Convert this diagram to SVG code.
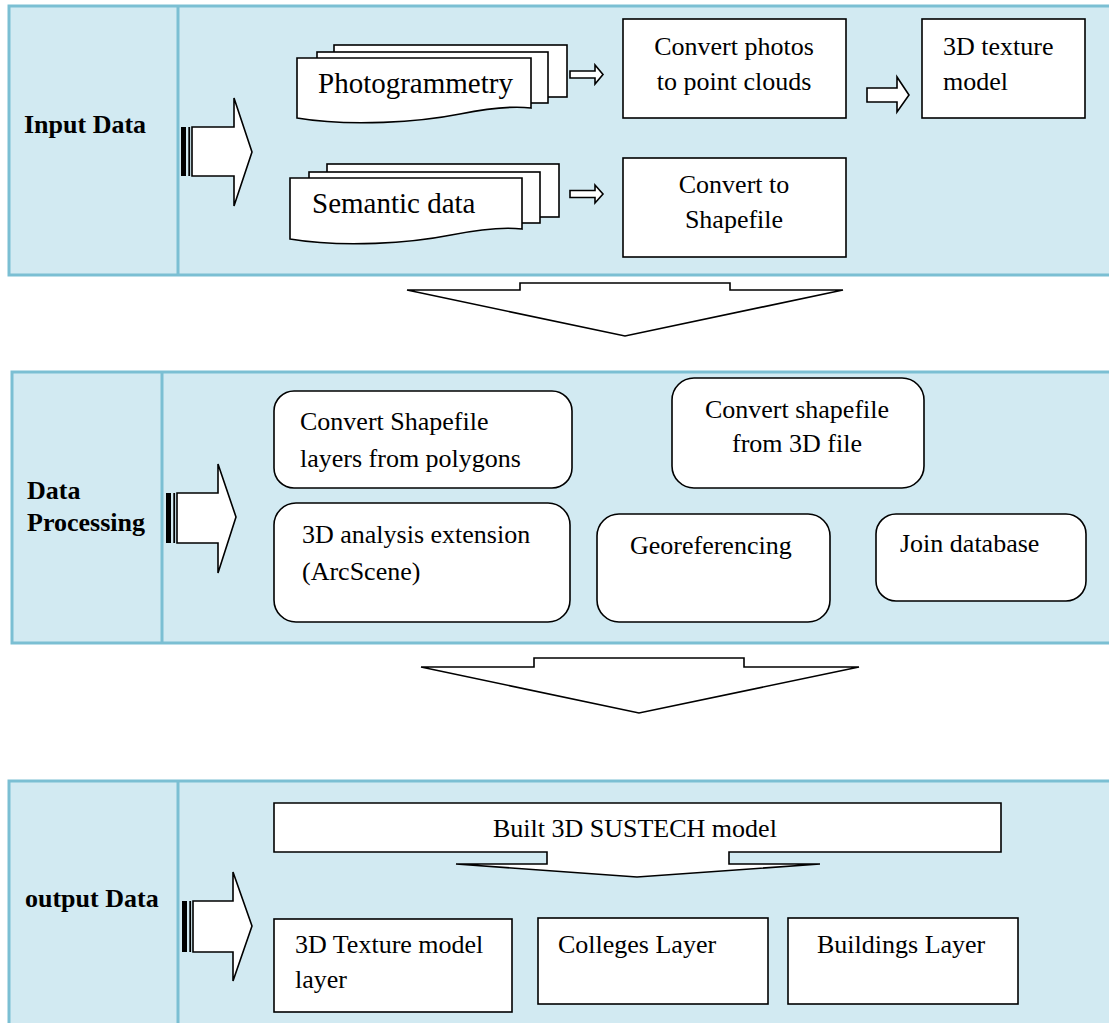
<svg xmlns="http://www.w3.org/2000/svg" width="1109" height="1023" viewBox="0 0 1109 1023">
<style>
.panel{fill:#d2eaf2;stroke:#7bbfd3;stroke-width:3}
.div{stroke:#7bbfd3;stroke-width:3}
.box{fill:#fff;stroke:#000;stroke-width:1.6}
.arr{fill:#fff;stroke:#000;stroke-width:1.6;stroke-linejoin:miter}
.t{font-family:"Liberation Serif","Times New Roman",serif;font-size:26px;fill:#000}
.big{font-size:29px}
.b{font-weight:bold}
.m{text-anchor:middle}
</style>
<rect width="1109" height="1023" fill="#fff"/>
<g id="panel-input">
<rect class="panel" x="9" y="6" width="1110" height="269"/>
<line class="div" x1="178" y1="6" x2="178" y2="275"/>
<text class="t b" x="24" y="133">Input Data</text>
</g>
<g id="panel-processing">
<rect class="panel" x="12" y="372" width="1110" height="271"/>
<line class="div" x1="162" y1="372" x2="162" y2="643"/>
<text class="t b" x="27" y="499">Data</text>
<text class="t b" x="27" y="531">Processing</text>
</g>
<g id="panel-output">
<rect class="panel" x="9" y="781" width="1110" height="260"/>
<line class="div" x1="178" y1="781" x2="178" y2="1041"/>
<text class="t b" x="25" y="907">output Data</text>
</g>
<g id="connectors">
<g id="arrow-input">
<rect x="181" y="127" width="5" height="49" fill="#000"/>
<rect x="188.3" y="127" width="1.8" height="49" fill="#000"/>
<polygon class="arr" points="192,127 234,127 234,98 252,152 234,206 234,176 192,176"/>
</g>
<g id="arrow-processing">
<rect x="166" y="493" width="5" height="50" fill="#000"/>
<rect x="173.3" y="493" width="1.8" height="50" fill="#000"/>
<polygon class="arr" points="177,493 218,493 218,464 236,517 218,573 218,543 177,543"/>
</g>
<g id="arrow-output">
<rect x="182" y="901" width="5" height="51" fill="#000"/>
<rect x="189.3" y="901" width="1.8" height="51" fill="#000"/>
<polygon class="arr" points="193,901 233,901 233,872 252,926 233,981 233,952 193,952"/>
</g>
<polygon id="arrow-photo" class="arr" points="570,71 595,71 595,65 603,74.5 595,84 595,78 570,78"/>
<polygon id="arrow-semantic" class="arr" points="570,190.5 595,190.5 595,185 603,194 595,203 595,197.5 570,197.5"/>
<polygon id="arrow-texture" class="arr" points="867,88 897,88 897,77 909,95 897,112 897,102 867,102"/>
<polygon id="down-arrow-1" class="arr" points="407,290 520,290 520,283 730,283 730,290 843,290 625,336"/>
<polygon id="down-arrow-2" class="arr" points="421,667 534,667 534,658 744,658 744,667 859,667 639,713"/>
</g>
<g id="node-photogrammetry">
<rect class="box" x="334" y="45" width="233" height="52"/>
<rect class="box" x="317" y="52" width="231" height="51"/>
<path class="box" d="M297,58 H531 V108 C515,106 490,108 460,114 C420,122 350,127 297,118 Z"/>
<text class="t big" x="318" y="93">Photogrammetry</text>
</g>
<g id="node-semantic">
<rect class="box" x="327" y="164" width="232" height="53"/>
<rect class="box" x="309" y="172" width="231" height="51"/>
<path class="box" d="M290,178 H522 V229 C506,227 481,229 451,235 C411,243 343,248 290,239 Z"/>
<text class="t big" x="312" y="213">Semantic data</text>
</g>
<g id="node-convert-photos">
<rect class="box" x="623" y="19" width="223" height="99"/>
<text class="t m" x="734" y="55">Convert photos</text>
<text class="t m" x="734" y="90">to point clouds</text>
</g>
<g id="node-3d-texture">
<rect class="box" x="922" y="19" width="163" height="99"/>
<text class="t" x="943" y="55">3D texture</text>
<text class="t" x="943" y="90">model</text>
</g>
<g id="node-convert-shapefile">
<rect class="box" x="623" y="158" width="223" height="99"/>
<text class="t m" x="734" y="193">Convert to</text>
<text class="t m" x="734" y="228">Shapefile</text>
</g>
<g id="node-convert-layers">
<rect class="box" x="274" y="391" width="298" height="97" rx="20"/>
<text class="t" x="300" y="430">Convert Shapefile</text>
<text class="t" x="300" y="467">layers from polygons</text>
</g>
<g id="node-convert-3d">
<rect class="box" x="672" y="378" width="252" height="110" rx="22"/>
<text class="t m" x="797" y="418">Convert shapefile</text>
<text class="t m" x="797" y="452">from 3D file</text>
</g>
<g id="node-3d-analysis">
<rect class="box" x="274" y="503" width="296" height="119" rx="22"/>
<text class="t" x="302" y="543">3D analysis extension</text>
<text class="t" x="302" y="580">(ArcScene)</text>
</g>
<g id="node-georeferencing">
<rect class="box" x="597" y="514" width="233" height="108" rx="22"/>
<text class="t" x="630" y="554">Georeferencing</text>
</g>
<g id="node-join">
<rect class="box" x="876" y="514" width="210" height="87" rx="20"/>
<text class="t" x="900" y="552">Join database</text>
</g>
<g id="node-built">
<path class="box" d="M274,803 H1001 V852 H729 V864 H820 L637,877 L456,864 H547 V852 H274 Z"/>
<text class="t" x="493" y="837">Built 3D SUSTECH model</text>
</g>
<g id="node-texture-layer">
<rect class="box" x="274" y="919" width="238" height="93"/>
<text class="t" x="295" y="953">3D Texture model</text>
<text class="t" x="295" y="988">layer</text>
</g>
<g id="node-colleges">
<rect class="box" x="538" y="918" width="230" height="86"/>
<text class="t" x="558" y="953">Colleges Layer</text>
</g>
<g id="node-buildings">
<rect class="box" x="788" y="918" width="230" height="86"/>
<text class="t" x="817" y="953">Buildings Layer</text>
</g>
</svg>
